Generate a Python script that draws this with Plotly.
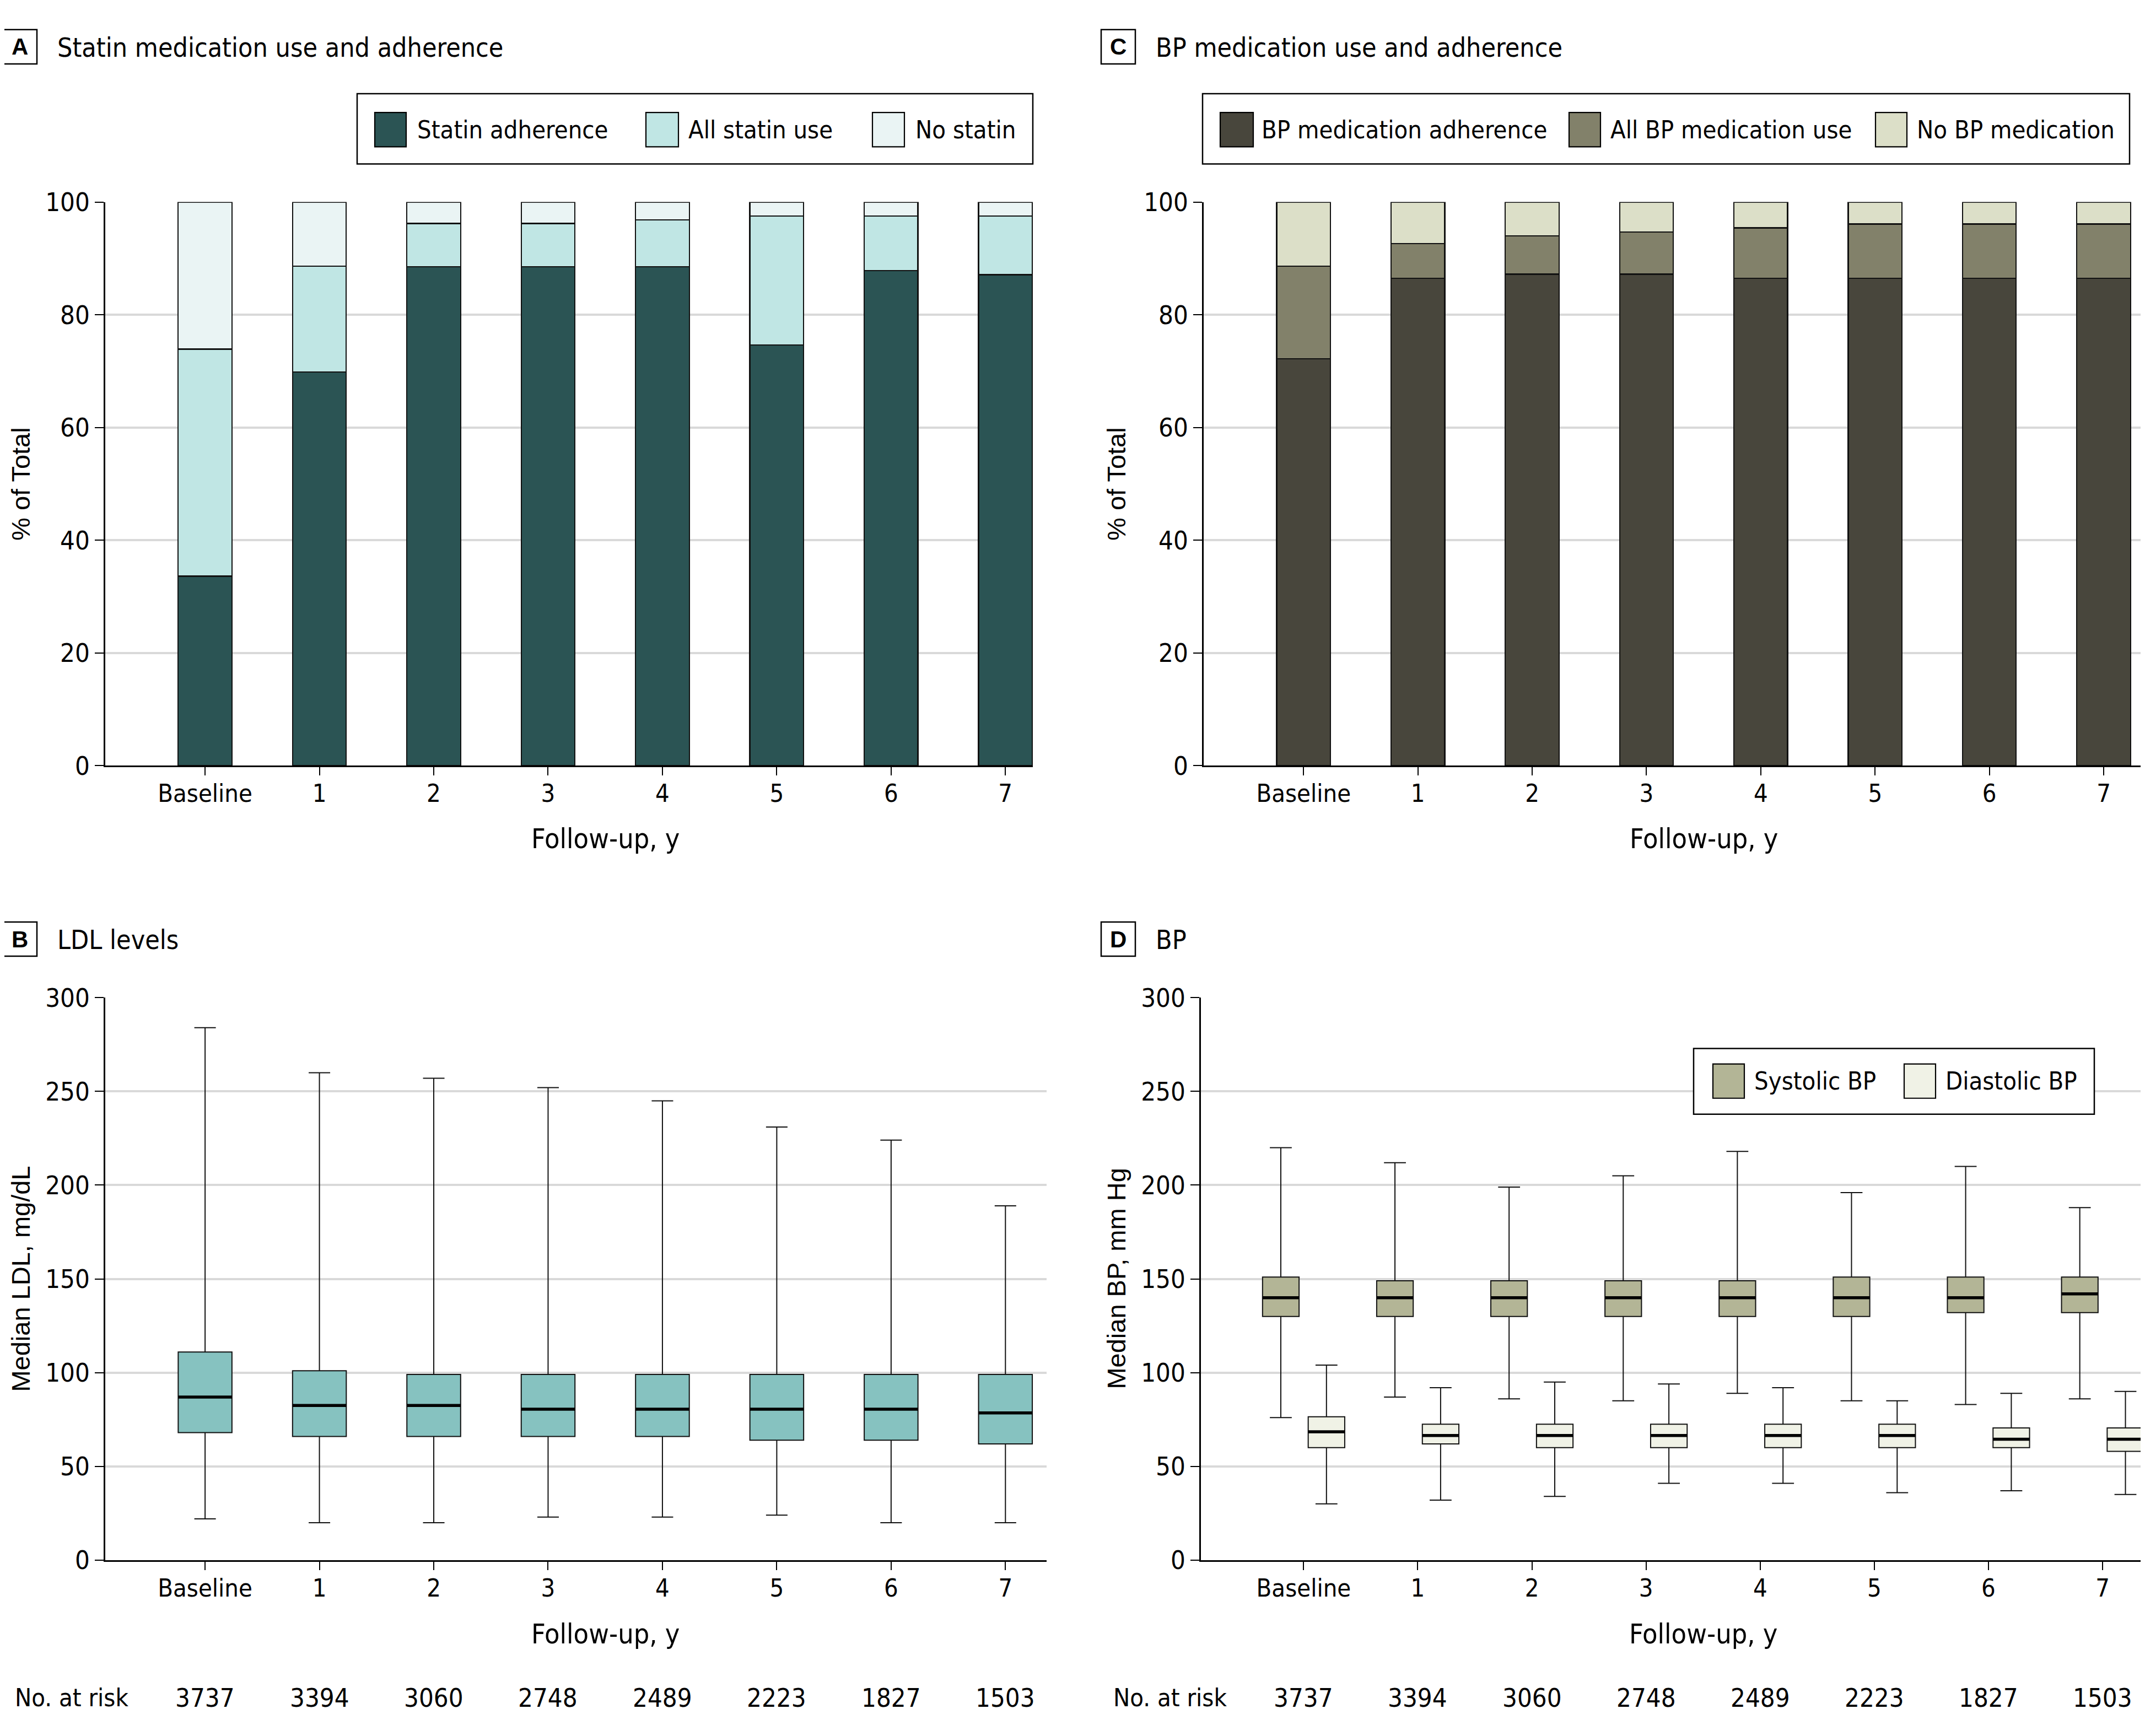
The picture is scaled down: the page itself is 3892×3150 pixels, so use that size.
import plotly.graph_objects as go

# ---------------- data ----------------
categories = ["Baseline", "1", "2", "3", "4", "5", "6", "7"]
no_at_risk = [3737, 3394, 3060, 2748, 2489, 2223, 1827, 1503]

# Panel A - statin use (% of total, stacked segments)
statin_adherence = [33.6, 69.8, 88.5, 88.5, 88.5, 74.6, 87.8, 87.1]
all_statin_use = [40.3, 18.8, 7.7, 7.7, 8.3, 22.9, 9.7, 10.4]
no_statin = [26.1, 11.4, 3.8, 3.8, 3.2, 2.5, 2.5, 2.5]

# Panel C - BP medication use (% of total, stacked segments)
bp_adherence = [72.2, 86.5, 87.2, 87.2, 86.5, 86.5, 86.5, 86.5]
all_bp_use = [16.4, 6.1, 6.8, 7.5, 8.9, 9.6, 9.6, 9.6]
no_bp = [11.4, 7.4, 6.0, 5.3, 4.6, 3.9, 3.9, 3.9]

# Panel B - LDL (mg/dL)
ldl_low = [22, 20, 20, 23, 23, 24, 20, 20]
ldl_q1 = [68, 66, 66, 66, 66, 64, 64, 62]
ldl_med = [87, 82.5, 82.5, 80.5, 80.5, 80.5, 80.5, 78.5]
ldl_q3 = [111, 101, 99, 99, 99, 99, 99, 99]
ldl_high = [284, 260, 257, 252, 245, 231, 224, 189]

# Panel D - BP (mm Hg)
sbp_low = [76, 87, 86, 85, 89, 85, 83, 86]
sbp_q1 = [130, 130, 130, 130, 130, 130, 132, 132]
sbp_med = [140, 140, 140, 140, 140, 140, 140, 142]
sbp_q3 = [151, 149, 149, 149, 149, 151, 151, 151]
sbp_high = [220, 212, 199, 205, 218, 196, 210, 188]

dbp_low = [30, 32, 34, 41, 41, 36, 37, 35]
dbp_q1 = [60, 62, 60, 60, 60, 60, 60, 58]
dbp_med = [68.5, 66.5, 66.5, 66.5, 66.5, 66.5, 64.5, 64.5]
dbp_q3 = [76.5, 72.5, 72.5, 72.5, 72.5, 72.5, 70.5, 70.5]
dbp_high = [104, 92, 95, 94, 92, 85, 89, 90]

# ---------------- style ----------------
W, H = 3892, 3150
FONT = "Liberation Sans Narrow, DejaVu Sans Condensed, Arial Narrow, sans-serif"
FONT_Y = "Liberation Sans, Arial, sans-serif"
GRID = "#d9d9d9"
C_STAT = ["#2b5454", "#c0e6e4", "#eaf4f4"]
C_BP = ["#48463c", "#82816a", "#dcdfc8"]
C_LDL = "#86c2c0"
C_SBP = "#b3b596"
C_DBP = "#f0f2e6"
EDGE = "#111111"

pos = list(range(len(categories)))

# page placement compensation (target pixel -> layout pixel)
X_OFF, Y_OFF, Y_SCALE = 8.0, 37.3, 0.98


def X(v):
    return v - X_OFF


def Y(v):
    return (v - Y_OFF) / Y_SCALE


def px(v):
    return X(v) / W


def py(v):
    return 1 - Y(v) / H


# plot areas (target pixels)
areas = {
    "A": dict(x0=191, x1=1874, y0=367, y1=1387, xr=[-0.873, 7.24], yr=[0, 100], dt=20),
    "B": dict(x0=191, x1=1899, y0=1807, y1=2825, xr=[-0.873, 7.36], yr=[0, 300], dt=50),
    "C": dict(x0=2184, x1=3900, y0=367, y1=1387, xr=[-0.874, 7.40], yr=[0, 100], dt=20),
    "D": dict(x0=2179, x1=3900, y0=1807, y1=2825, xr=[-0.90, 7.41], yr=[0, 300], dt=50),
}
axis_ids = {"A": "", "B": "2", "C": "3", "D": "4"}

fig = go.Figure()

# ---------- bars ----------
bar_w = 0.47
for vals, col, name in zip([statin_adherence, all_statin_use, no_statin], C_STAT,
                           ["Statin adherence", "All statin use", "No statin"]):
    fig.add_trace(go.Bar(x=pos, y=vals, name=name, width=bar_w,
                         marker=dict(color=col, line=dict(color=EDGE, width=2.2)),
                         xaxis="x", yaxis="y", showlegend=False))
for vals, col, name in zip([bp_adherence, all_bp_use, no_bp], C_BP,
                           ["BP medication adherence", "All BP medication use", "No BP medication"]):
    fig.add_trace(go.Bar(x=pos, y=vals, name=name, width=bar_w,
                         marker=dict(color=col, line=dict(color=EDGE, width=2.2)),
                         xaxis="x3", yaxis="y3", showlegend=False))


# ---------- boxes ----------
def add_box(xs, lo, q1, med, q3, hi, col, width, ww, xa, ya, name, area):
    fig.add_trace(go.Box(x=xs, lowerfence=lo, q1=q1, median=med, q3=q3, upperfence=hi,
                         width=width, whiskerwidth=ww, fillcolor=col, line=dict(color=EDGE, width=2),
                         boxpoints=False, name=name, xaxis=xa, yaxis=ya, showlegend=False,
                         hoverinfo="skip"))
    a = areas[area]
    ppu = (a["x1"] - a["x0"]) / (a["xr"][1] - a["xr"][0])
    fig.add_trace(go.Scatter(x=xs, y=med, mode="markers", xaxis=xa, yaxis=ya, showlegend=False,
                             hoverinfo="skip",
                             marker=dict(symbol="line-ew", size=width * ppu / 1.4,
                                         line=dict(color="black", width=5.5))))


add_box(pos, ldl_low, ldl_q1, ldl_med, ldl_q3, ldl_high, C_LDL, 0.47, 0.4, "x2", "y2", "LDL", "B")
off = 0.2
add_box([p - off for p in pos], sbp_low, sbp_q1, sbp_med, sbp_q3, sbp_high, C_SBP, 0.32, 0.6,
        "x4", "y4", "Systolic BP", "D")
add_box([p + off for p in pos], dbp_low, dbp_q1, dbp_med, dbp_q3, dbp_high, C_DBP, 0.32, 0.6,
        "x4", "y4", "Diastolic BP", "D")

# ---------- axes ----------
TICK_SIZE = 45
layout_axes = {}
for key, a in areas.items():
    sid = axis_ids[key]
    layout_axes["xaxis" + sid] = dict(
        domain=[px(a["x0"]), min(1.0, px(a["x1"]))], anchor="y" + sid, range=a["xr"],
        tickmode="array", tickvals=pos, ticktext=categories,
        showline=True, linecolor="black", linewidth=3, ticks="outside", ticklen=15, tickwidth=2,
        tickcolor="black", showgrid=False, zeroline=False, ticklabelstandoff=-6,
        tickfont=dict(family=FONT, size=TICK_SIZE, color="black"), fixedrange=True)
    layout_axes["yaxis" + sid] = dict(
        domain=[py(a["y1"]), py(a["y0"])], anchor="x" + sid, range=a["yr"], dtick=a["dt"],
        tick0=0, showline=True, linecolor="black", linewidth=2.5, ticks="outside", ticklen=16,
        tickwidth=2, tickcolor="black", showgrid=True, gridcolor=GRID, gridwidth=4,
        zeroline=False, tickfont=dict(family=FONT, size=TICK_SIZE + 2, color="black"), fixedrange=True)

annotations = []
shapes = []

# panel labels and titles
panels = [("A", "Statin medication use and adherence", 5, 55),
          ("C", "BP medication use and adherence", 1998, 55),
          ("B", "LDL levels", 5, 1670),
          ("D", "BP", 1998, 1670)]
for letter, title, bx, by in panels:
    shapes.append(dict(type="rect", xref="paper", yref="paper", x0=px(bx), x1=px(bx + 62),
                       y0=py(by + 62), y1=py(by), line=dict(color="black", width=2.5), fillcolor="white"))
    annotations.append(dict(text="<b>%s</b>" % letter, xref="paper", yref="paper", x=px(bx + 31),
                            y=py(by + 31), xanchor="center", yanchor="middle", showarrow=False,
                            font=dict(family="Liberation Sans, Arial, sans-serif", size=42, color="black")))
    annotations.append(dict(text=title, xref="paper", yref="paper", x=px(bx + 97), y=py(by + 32),
                            xanchor="left", yanchor="middle", showarrow=False,
                            font=dict(family=FONT, size=48, color="black")))

# x axis titles
for key, ypix in [("A", 1519), ("B", 2959), ("C", 1519), ("D", 2959)]:
    sid = axis_ids[key]
    annotations.append(dict(text="Follow-up, y", xref="x" + sid, yref="paper", x=3.5, y=py(ypix),
                            xanchor="center", yanchor="middle", showarrow=False,
                            font=dict(family=FONT, size=50, color="black")))

# y axis titles
for key, title, xpix in [("A", "% of Total", 38), ("B", "Median LDL, mg/dL", 38),
                         ("C", "% of Total", 2026), ("D", "Median BP, mm Hg", 2026)]:
    a = areas[key]
    annotations.append(dict(text=title, xref="paper", yref="paper", x=px(xpix),
                            y=py((a["y0"] + a["y1"]) / 2),
                            xanchor="center", yanchor="middle", textangle=-90, showarrow=False,
                            font=dict(family=FONT_Y, size=47, color="black")))

# number at risk
for key, xlab in [("B", 25), ("D", 2018)]:
    sid = axis_ids[key]
    annotations.append(dict(text="No. at risk", xref="paper", yref="paper", x=px(xlab), y=py(3074),
                            xanchor="left", yanchor="middle", showarrow=False,
                            font=dict(family=FONT, size=45, color="black")))
    for p, n in zip(pos, no_at_risk):
        annotations.append(dict(text=str(n), xref="x" + sid, yref="paper", x=p, y=py(3074),
                                xanchor="center", yanchor="middle", showarrow=False,
                                font=dict(family=FONT, size=47, color="black")))


# custom legends
def legend_box(frame, items, ymid, sw_h=62):
    fx0, fy0, fx1, fy1 = frame
    shapes.append(dict(type="rect", xref="paper", yref="paper", x0=px(fx0), x1=px(fx1),
                       y0=py(fy1), y1=py(fy0),
                       line=dict(color="black", width=2.5), fillcolor="white"))
    for sx0, sx1, col, label, tx in items:
        shapes.append(dict(type="rect", xref="paper", yref="paper", x0=px(sx0), x1=px(sx1),
                           y0=py(ymid + sw_h / 2), y1=py(ymid - sw_h / 2),
                           line=dict(color="black", width=2.2), fillcolor=col))
        annotations.append(dict(text=label, xref="paper", yref="paper", x=px(tx), y=py(ymid),
                                xanchor="left", yanchor="middle", showarrow=False,
                                font=dict(family=FONT, size=45, color="black")))


legend_box((648, 171, 1874, 298),
           [(680, 737, C_STAT[0], "Statin adherence", 755),
            (1172, 1231, C_STAT[1], "All statin use", 1247),
            (1583, 1641, C_STAT[2], "No statin", 1659)], 236)
legend_box((2182, 171, 3864, 298),
           [(2214, 2274, C_BP[0], "BP medication adherence", 2287),
            (2847, 2904, C_BP[1], "All BP medication use", 2920),
            (3403, 3460, C_BP[2], "No BP medication", 3476)], 236)
legend_box((3073, 1899, 3800, 2018),
           [(3108, 3165, C_SBP, "Systolic BP", 3181),
            (3455, 3512, C_DBP, "Diastolic BP", 3528)], 1958)

fig.update_layout(
    width=W, height=H, margin=dict(l=0, r=0, t=0, b=0),
    paper_bgcolor="white", plot_bgcolor="white", barmode="stack",
    showlegend=False, annotations=annotations, shapes=shapes,
    font=dict(family=FONT, size=45, color="black"),
    **layout_axes)

fig.write_html("out.html")
